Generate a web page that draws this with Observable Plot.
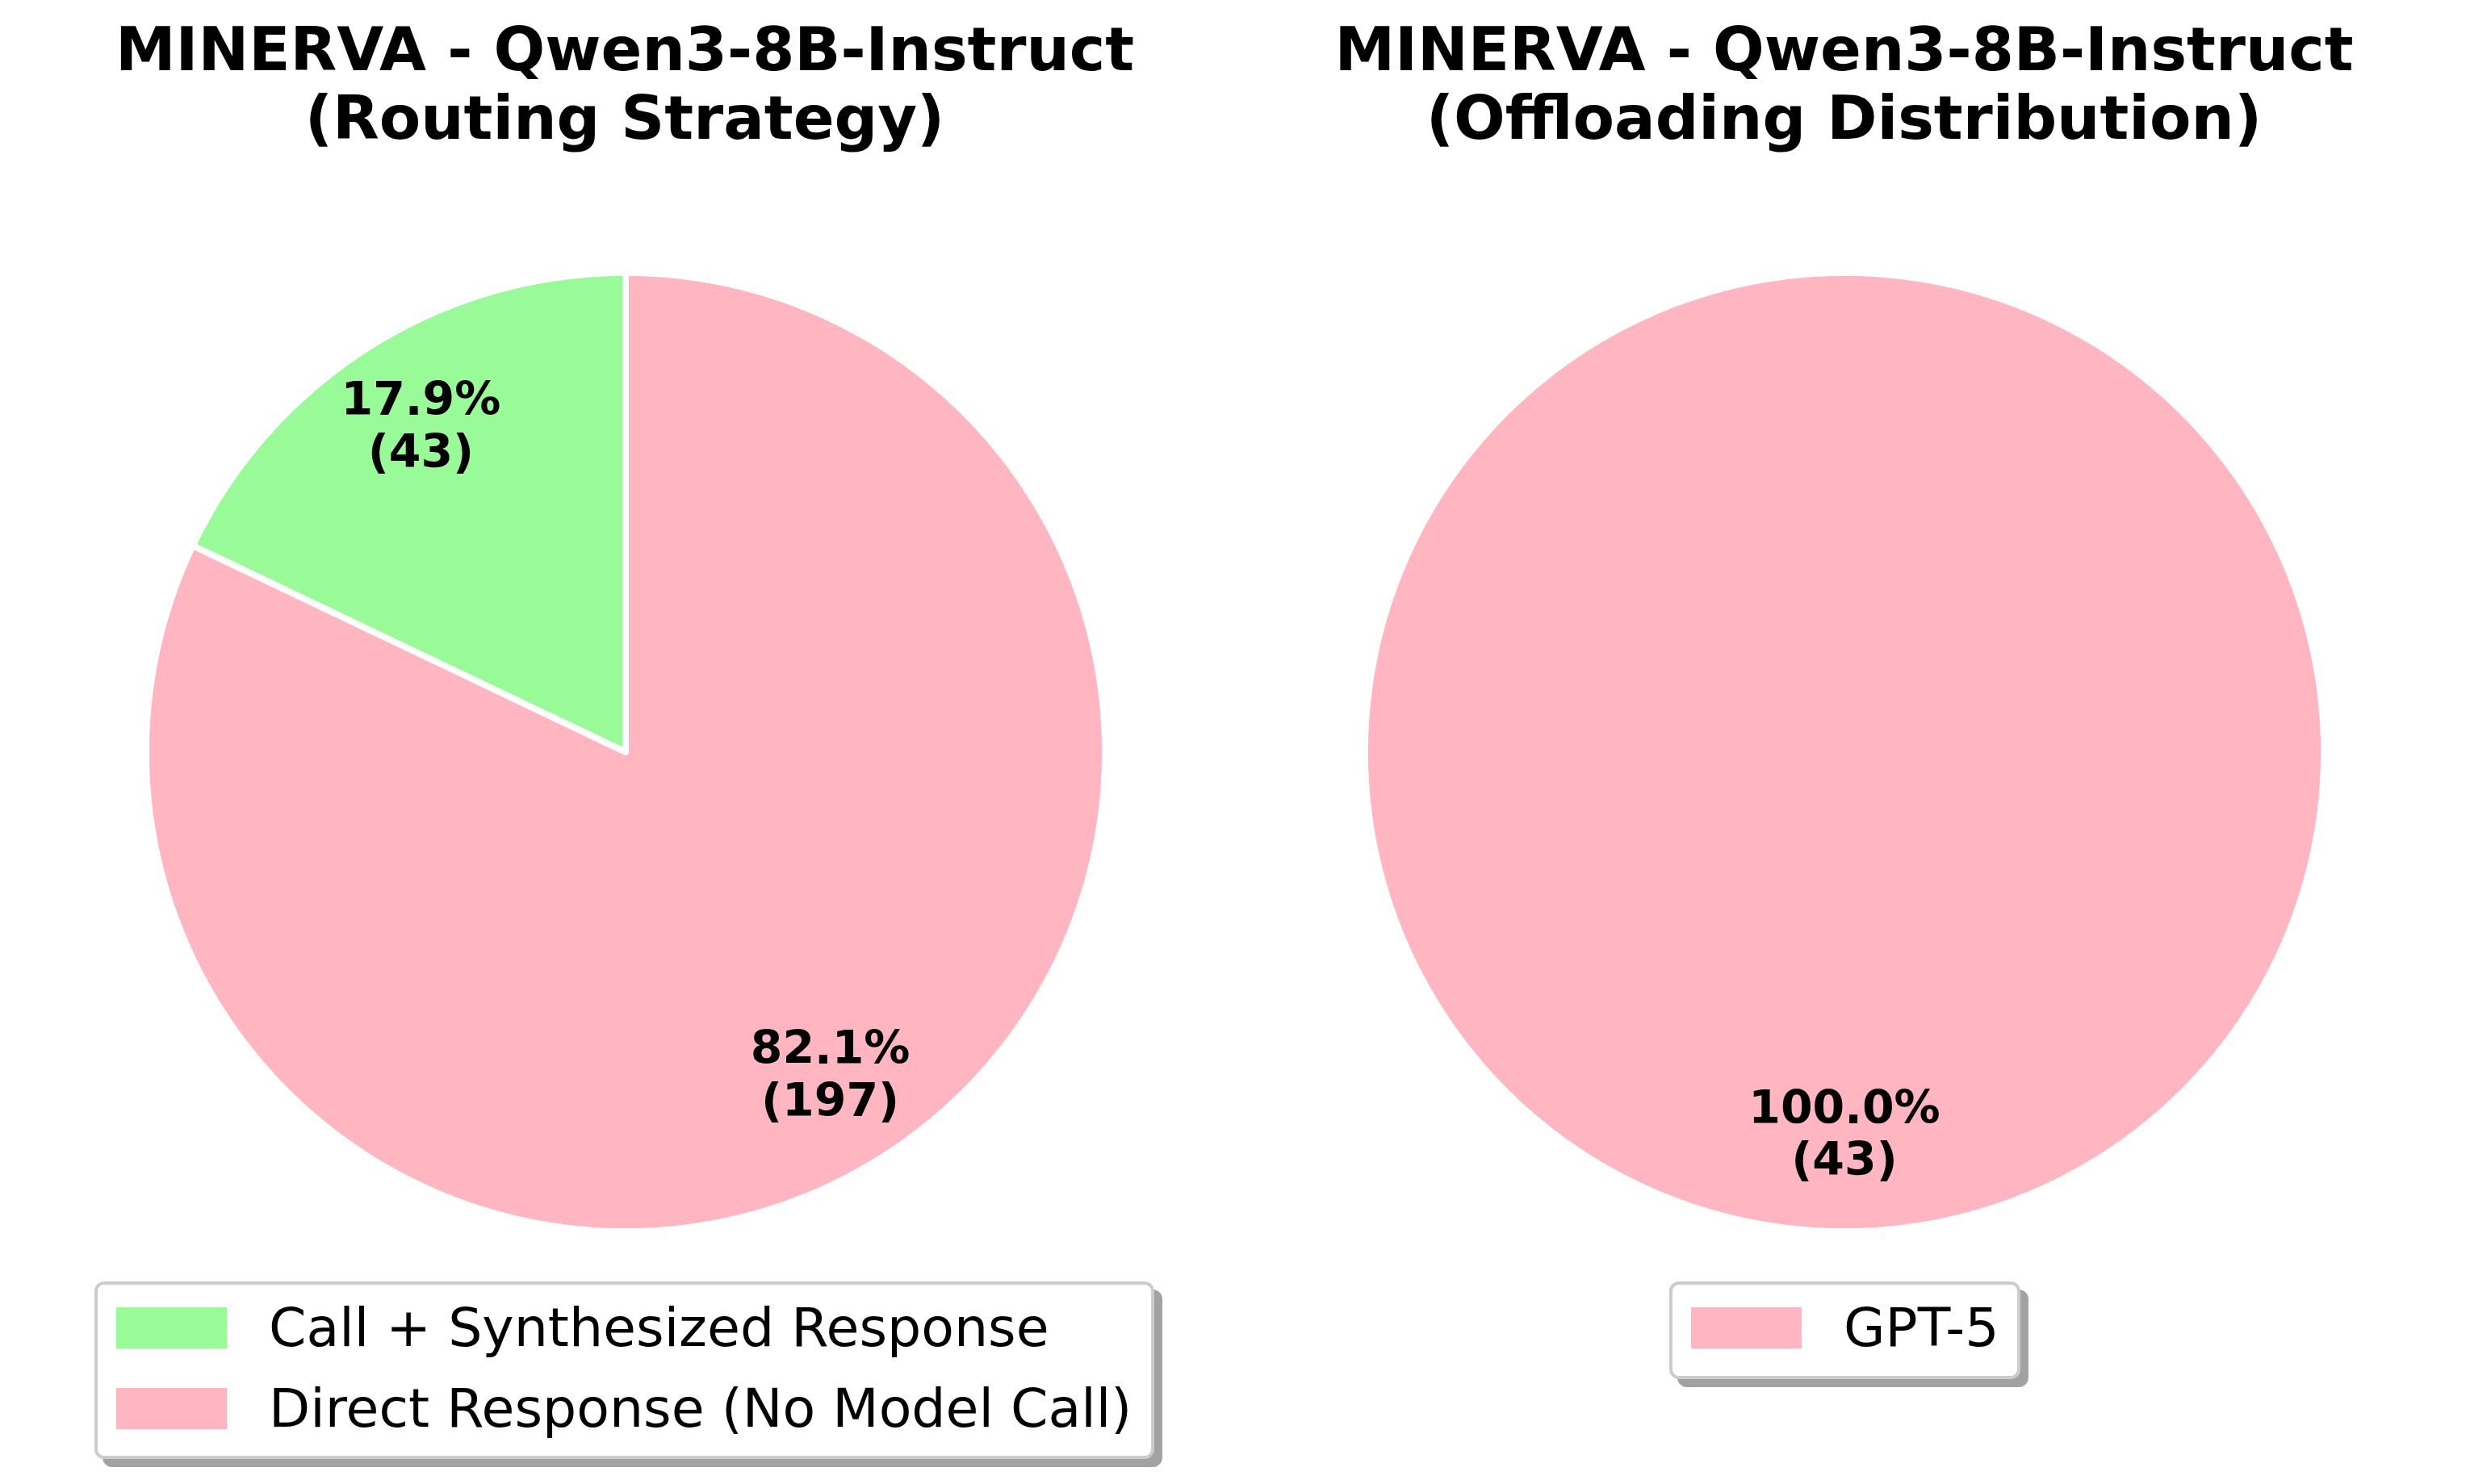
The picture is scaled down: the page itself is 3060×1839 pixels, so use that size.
<!DOCTYPE html>
<html>
<head>
<meta charset="utf-8">
<script src="https://cdn.jsdelivr.net/npm/d3@7"></script>
<script src="https://cdn.jsdelivr.net/npm/@observablehq/plot@0.6"></script>
<style>
  html, body { margin: 0; padding: 0; background: #ffffff; }
  #page { position: relative; width: 3060px; height: 1839px; overflow: hidden; background: #ffffff; font-family: "DejaVu Sans", sans-serif; }
  .title { position: absolute; width: 1500px; text-align: center; font-weight: bold; font-size: 75px; line-height: 85px; color: #000; white-space: nowrap; }
  .pie { position: absolute; width: 1307px; height: 1307px; }
  .legend { position: absolute; box-sizing: border-box; border: 4px solid #cccccc; border-radius: 12px; background: #ffffff; box-shadow: 10px 10px 0 0 #a2a2a2; }
  .sw { position: absolute; width: 137px; height: 51px; }
  .lt { position: absolute; font-size: 66.5px; line-height: 77.4px; color: #000; white-space: nowrap; }
</style>
</head>
<body>
<div id="page"></div>
<script>
// ---- data ----
const routingCategories = ["Call + Synthesized Response", "Direct Response (No Model Call)"];
const routingCounts = [43, 197];
const offloadCategories = ["GPT-5"];
const offloadCounts = [43];
const titleLine1 = ["MINERVA - Qwen3-8B-Instruct", "MINERVA - Qwen3-8B-Instruct"];
const titleLine2 = ["(Routing Strategy)", "(Offloading Distribution)"];

// ---- styles ----
const colorOf = {
  "Call + Synthesized Response": "#98FB98",
  "Direct Response (No Model Call)": "#FFB6C1",
  "GPT-5": "#FFB6C1"
};

const page = document.getElementById("page");

function pieGeometry(categories, counts) {
  const arcs = d3.pie().sort(null).startAngle(0).endAngle(-2 * Math.PI)(counts);
  const total = d3.sum(counts);
  const poly = [], labels = [];
  arcs.forEach((a, i) => {
    const t0 = Math.PI / 2 - a.startAngle, t1 = Math.PI / 2 - a.endAngle;
    const full = Math.abs(t1 - t0) >= 2 * Math.PI - 1e-9;
    const n = Math.max(2, Math.ceil(Math.abs(t1 - t0) / (Math.PI / 360)));
    const pts = [];
    if (!full) pts.push({x: 0, y: 0});
    for (let k = 0; k <= n; k++) {
      const t = t0 + (t1 - t0) * k / n;
      pts.push({x: Math.cos(t), y: Math.sin(t)});
    }
    if (!full) pts.push({x: 0, y: 0});
    pts.forEach(p => poly.push({...p, category: categories[i]}));
    const tm = (t0 + t1) / 2;
    labels.push({
      x: 0.8 * Math.cos(tm),
      y: 0.8 * Math.sin(tm),
      text: `${(100 * a.value / total).toFixed(1)}%\n(${a.value})`
    });
  });
  return {poly, labels};
}

function drawPie(categories, counts, cx, cy) {
  const {poly, labels} = pieGeometry(categories, counts);
  const size = 1307;
  const svg = Plot.plot({
    width: size,
    height: size,
    margin: 0,
    style: {background: "transparent", fontFamily: "DejaVu Sans", overflow: "visible"},
    x: {domain: [-1.1, 1.1], axis: null},
    y: {domain: [-1.1, 1.1], axis: null},
    color: {domain: categories, range: categories.map(c => colorOf[c])},
    marks: [
      Plot.line(poly, {x: "x", y: "y", z: "category", fill: "category", stroke: "white", strokeWidth: 8, strokeLinejoin: "miter"}),
      Plot.text(labels, {x: "x", y: "y", text: "text", fill: "black", fontSize: 57, fontWeight: "bold", fontFamily: "DejaVu Sans", lineHeight: 1.13, dy: -4})
    ]
  });
  const wrap = document.createElement("div");
  wrap.className = "pie";
  wrap.style.left = (cx - size / 2) + "px";
  wrap.style.top = (cy - size / 2) + "px";
  wrap.appendChild(svg);
  page.appendChild(wrap);
}

function addTitle(i, cx) {
  const t = document.createElement("div");
  t.className = "title";
  t.style.left = (cx - 750) + "px";
  t.style.top = "18.5px";
  t.appendChild(document.createTextNode(titleLine1[i]));
  t.appendChild(document.createElement("br"));
  t.appendChild(document.createTextNode(titleLine2[i]));
  page.appendChild(t);
}

function addLegend(categories, left, top, width, height) {
  const fs = 66.5, lh = 77.4;
  const box = document.createElement("div");
  box.className = "legend";
  box.style.left = left + "px";
  box.style.top = top + "px";
  box.style.width = width + "px";
  box.style.height = height + "px";
  page.appendChild(box);
  categories.forEach((c, i) => {
    const sw = document.createElement("div");
    sw.className = "sw";
    sw.style.left = (left + 27) + "px";
    sw.style.top = (top + 32 + i * 100) + "px";
    sw.style.background = colorOf[c];
    page.appendChild(sw);
    const tx = document.createElement("div");
    tx.className = "lt";
    tx.style.left = (left + 216) + "px";
    tx.style.top = (top + 81 - 0.928 * fs - (lh - 1.164 * fs) / 2 + i * 100) + "px";
    tx.textContent = c;
    page.appendChild(tx);
  });
}

const cxL = 774, cxR = 2284.5, cy = 931;
addTitle(0, cxL);
addTitle(1, cxR);
drawPie(routingCategories, routingCounts, cxL, cy);
drawPie(offloadCategories, offloadCounts, cxR, cy);
addLegend(routingCategories, 117, 1588, 1313, 220);
addLegend(offloadCategories, 2068, 1588, 435, 121);
</script>
</body>
</html>
